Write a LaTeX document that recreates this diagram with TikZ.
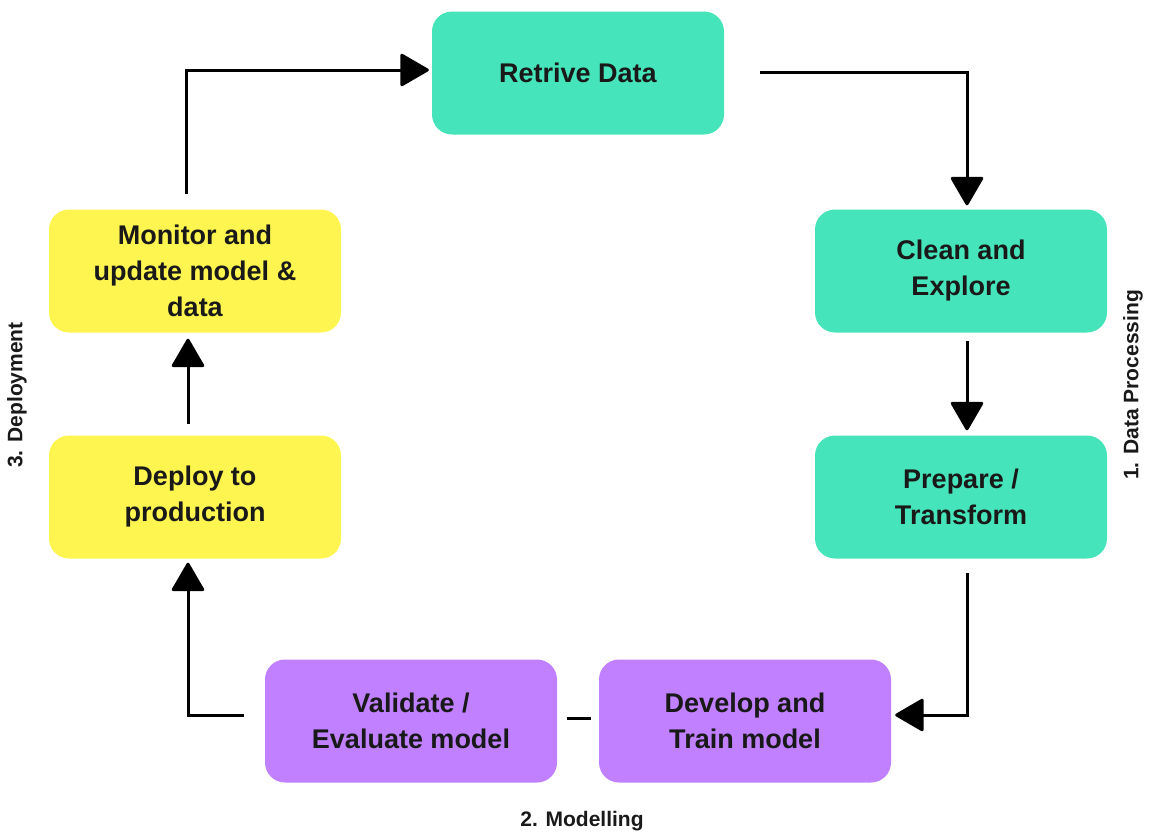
\documentclass[tikz,border=0pt]{standalone}
\usepackage{fontspec}
\setmainfont{Liberation Sans}
\usetikzlibrary{arrows.meta}
\definecolor{teal1}{RGB}{70,228,186}
\definecolor{yel1}{RGB}{255,245,80}
\definecolor{pur1}{RGB}{192,128,255}
\definecolor{ink}{RGB}{25,25,25}
\tikzset{
  box/.style={rounded corners=20pt, minimum width=292pt, minimum height=123pt, inner sep=0pt,
    align=center, text=ink, font=\fontsize{27}{36}\selectfont\bfseries},
  tealbox/.style={box, fill=teal1},
  yelbox/.style={box, fill=yel1},
  purbox/.style={box, fill=pur1},
  arr/.style={line width=3pt, draw=black, -{Triangle[round, width=34pt, length=30pt]}},
  plain/.style={line width=3pt, draw=black},
  lbl/.style={font=\fontsize{21}{24}\selectfont\bfseries, text=ink}
}
\begin{document}
\begin{tikzpicture}[x=1pt,y=-1pt]
\useasboundingbox (0,0) rectangle (1151,835);
\node[tealbox] (retr) at (578,73) {Retrive Data};
\node[tealbox] (clean) at (961,271) {Clean and\\Explore};
\node[tealbox] (prep) at (961,497) {Prepare /\\Transform};
\node[purbox] (dev) at (745,721) {Develop and\\Train model};
\node[purbox] (val) at (411,721) {Validate /\\Evaluate model};
\node[yelbox] (deploy) at (195,497) {Deploy to\\production};
\node[yelbox] (monitor) at (195,271) {Monitor and\\update model \&\\data};

\node[lbl, rotate=90] (l1) at (1133,385) {1. Data Processing};
\node[lbl, rotate=90] (l3) at (17,395) {3. Deployment};
\node[lbl] (l2) at (582,821) {2. Modelling};

\draw[arr] ([xshift=-9pt,yshift=15pt]monitor.north) |- ([xshift=-3pt,yshift=3pt]retr.west);
\draw[arr] ([xshift=36pt,yshift=1pt]retr.east) -| ([xshift=6pt,yshift=4pt]clean.north);
\draw[arr] ([xshift=6pt,yshift=-8pt]clean.south) -- ([xshift=6pt,yshift=5pt]prep.north);
\draw[arr] ([xshift=6pt,yshift=-14pt]prep.south) |- ([xshift=4pt,yshift=6pt]dev.east);
\draw[plain] ([xshift=10pt,yshift=3pt]val.east) -- ([xshift=-8pt,yshift=3pt]dev.west);
\draw[arr] ([xshift=-21pt,yshift=6pt]val.west) -| ([xshift=-7pt,yshift=-4pt]deploy.south);
\draw[arr] ([xshift=-7pt,yshift=11pt]deploy.north) -- ([xshift=-7pt,yshift=-6pt]monitor.south);
\end{tikzpicture}
\end{document}
